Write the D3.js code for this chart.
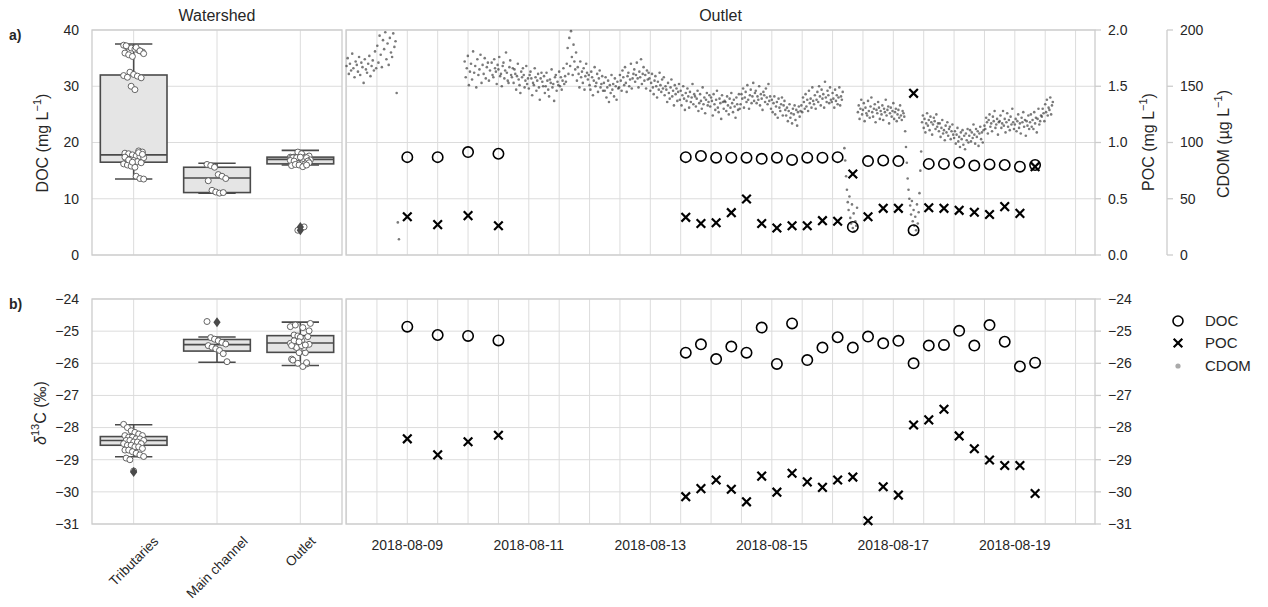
<!DOCTYPE html>
<html><head><meta charset="utf-8">
<script src="https://cdn.jsdelivr.net/npm/d3@7"></script>
<style>body{margin:0;background:#fff}</style>
</head><body><svg id="c" width="1268" height="607"></svg>
<script>
// ---------------- DATA ----------------
const categories = ["Tributaries", "Main channel", "Outlet"];
// box stats: [lower whisker, Q1, median, Q3, upper whisker]
const docBoxStats = [[13.5, 16.5, 17.8, 32.0, 37.5], [11.0, 11.1, 13.7, 15.6, 16.3], [16.0, 16.2, 17.0, 17.4, 18.6]];
const docBoxOutliers = [[], [], [4.4, 5.0]];
const d13BoxStats = [[-28.91, -28.55, -28.40, -28.28, -27.91], [-25.97, -25.62, -25.42, -25.26, -25.18], [-26.07, -25.66, -25.37, -25.14, -24.72]];
const d13BoxOutliers = [[-29.38], [-24.72], []];

const tribDOC = [37.3, 37.0, 36.8, 36.6, 36.4, 36.1, 35.9, 35.6, 35.3, 36.9, 36.3, 35.8, 37.2, 32.5, 32.1, 31.8, 31.5, 31.9, 31.6, 30.0, 29.4,
  18.5, 18.3, 18.1, 18.0, 17.8, 17.6, 17.5, 17.3, 17.2, 17.0, 16.8, 16.6, 16.4, 16.2, 16.0, 15.8, 15.6, 18.2, 17.9, 17.4, 16.9, 16.5, 14.0, 13.6, 13.5];
const mainDOC = [16.1, 15.9, 15.6, 14.3, 14.0, 13.6, 13.2, 11.5, 11.2, 11.0, 11.1];
const tribD13 = [-27.9, -28.0, -28.1, -28.15, -28.2, -28.25, -28.25, -28.3, -28.3, -28.35, -28.35, -28.4, -28.4, -28.4, -28.45, -28.45, -28.5, -28.5,
  -28.55, -28.55, -28.6, -28.6, -28.65, -28.7, -28.7, -28.75, -28.8, -28.85, -28.9, -28.95, -29.0, -29.35];
const mainD13 = [-24.7, -25.2, -25.25, -25.3, -25.35, -25.4, -25.45, -25.5, -25.55, -25.6, -25.7, -25.95];

const sampleTimes = ["2018-08-09T00:00", "2018-08-09T12:00", "2018-08-10T00:00", "2018-08-10T12:00",
  "2018-08-13T14:00", "2018-08-13T20:00", "2018-08-14T02:00", "2018-08-14T08:00", "2018-08-14T14:00", "2018-08-14T20:00",
  "2018-08-15T02:00", "2018-08-15T08:00", "2018-08-15T14:00", "2018-08-15T20:00", "2018-08-16T02:00", "2018-08-16T08:00",
  "2018-08-16T14:00", "2018-08-16T20:00", "2018-08-17T02:00", "2018-08-17T08:00", "2018-08-17T14:00", "2018-08-17T20:00",
  "2018-08-18T02:00", "2018-08-18T08:00", "2018-08-18T14:00", "2018-08-18T20:00", "2018-08-19T02:00", "2018-08-19T08:00"];
const outletDOC = [17.4, 17.4, 18.3, 18.0, 17.4, 17.6, 17.3, 17.3, 17.3, 17.1, 17.3, 16.9, 17.3, 17.3, 17.4, 5.0, 16.7, 16.8, 16.7, 4.4,
  16.2, 16.2, 16.4, 15.9, 16.1, 16.0, 15.7, 16.0];
const outletPOC = [0.34, 0.27, 0.35, 0.26, 0.335, 0.28, 0.287, 0.376, 0.498, 0.28, 0.24, 0.26, 0.26, 0.305, 0.30, 0.72, 0.34, 0.415, 0.415, 1.437,
  0.42, 0.415, 0.397, 0.38, 0.36, 0.43, 0.37, 0.785];
const outletDOCd13C = [-24.86, -25.12, -25.15, -25.29, -25.67, -25.41, -25.87, -25.48, -25.67, -24.89, -26.02, -24.76, -25.90, -25.51, -25.19, -25.51,
  -25.17, -25.38, -25.30, -26.0, -25.45, -25.43, -24.99, -25.45, -24.81, -25.33, -26.1, -25.98];
const outletPOCd13C = [-28.35, -28.85, -28.44, -28.24, -30.15, -29.90, -29.63, -29.92, -30.31, -29.51, -30.01, -29.42, -29.69, -29.86, -29.63, -29.54,
  -30.90, -29.84, -30.10, -27.92, -27.76, -27.43, -28.26, -28.66, -29.01, -29.18, -29.18, -30.05];

// CDOM sensor record (µg/L), regular sampling within each segment
const cdomStarts = ["2018-08-08T00:00", "2018-08-09T22:40", "2018-08-10T09:20", "2018-08-16T04:40", "2018-08-16T10:00", "2018-08-17T04:40", "2018-08-17T11:20"];
const cdomStepsMin = [27, 25, 20, 20, 20, 20, 20];
const cdomA = [168,175,161,170,164,179,166,158,172,169,163,176,160,171,167,153,174,165,162,170,177,159,168,173,164,181,166,
  186,171,195,178,167,191,183,198,174,188,169,193,180,176,197,185,190,144,29,14];
const cdomB = [172,158,166,177,151,163,170,156,181,162,168,149,174,160,165,178,153,169,161,175,157,167,171,155,164];
const cdomC = [171,160,158,174,166,163,152,169,
  165,176,159,161,150,168,171,157,164,180,162,155,153,167,173,160,158,166,
  153,165,161,147,159,170,156,151,144,163,158,166,160,149,155,168,152,157,
  148,160,163,157,142,153,151,166,158,146,155,161,149,138,157,162,154,150,
  159,144,150,162,155,147,141,156,153,165,149,152,137,158,160,146,154,151,
  163,150,158,147,155,166,152,159,154,
  170,184,161,193,168,199,176,160,187,172,165,180,
  155,167,161,149,172,158,163,153,166,147,159,170,162,156,
  160,151,147,163,158,142,155,167,150,153,161,145,157,164,149,152,159,146,
  153,146,158,140,149,155,136,151,144,160,147,152,141,157,150,138,154,148,
  149,160,155,146,164,158,151,167,153,145,159,162,150,156,170,148,157,161,
  165,154,160,171,157,149,163,158,174,152,161,167,155,160,148,164,156,162,
  157,146,153,161,149,143,155,159,150,140,154,147,162,151,145,156,148,158,
  142,150,147,136,153,144,139,149,156,141,146,133,151,143,148,137,145,152,
  138,146,133,142,150,139,129,144,137,148,141,131,145,136,140,152,134,143,
  141,132,139,146,128,135,143,137,130,149,134,140,126,138,144,133,136,142,
  132,140,137,124,143,134,129,138,146,131,127,139,135,121,142,136,130,137,
  136,128,141,133,125,139,131,144,135,127,138,132,122,140,134,129,143,130,
  134,143,139,148,131,140,145,136,151,138,130,142,147,135,141,153,137,144,
  146,135,141,138,150,133,143,139,129,145,142,136,148,140,134,152,137,141,
  130,138,127,135,141,125,132,136,122,139,131,128,134,140,124,133,137,129,
  124,131,119,128,134,122,126,117,130,125,133,120,129,115,127,132,123,128,
  133,127,140,136,130,143,132,138,128,146,135,139,131,149,137,134,142,130,
  138,145,136,150,141,133,147,139,143,131,154,140,136,146,142,135,149,138,
  136,144,139,131,147,137,142,134,140,149,133,141,138,145];
const cdomDip1 = [95,84,70,58,47,40,52,33,28,45,24,37,21,30,26,42];
const cdomD = [127,133,121,130,138,125,129,135,119,131,126,124,137,128,122,132,140,127,123,130,134,118,129,126,136,131,121,128,
  125,133,120,130,127,138,124,129,132,117,126,131,123,128,135,121,127,130,119,125,129,122,133,124,120,128,126,123];
const cdomDip2 = [110,96,82,68,58,50,44,36,48,30,40,26,34,22,45,28,38,55,75,92];
const cdomE = [118,124,113,121,109,117,126,115,120,111,123,118,107,116,122,119,112,125,114,117,
  110,117,105,113,120,108,111,102,115,109,118,106,112,114,103,110,116,107,
  104,110,99,107,113,101,105,96,109,103,111,98,106,94,108,102,112,100,
  106,111,101,109,104,116,107,99,112,105,110,97,108,114,103,109,100,111,
  115,112,122,118,108,120,125,114,117,110,123,119,128,113,116,121,107,118,
  119,124,113,117,128,115,121,109,118,126,114,120,111,123,116,130,118,112,
  116,121,110,119,125,113,117,108,122,118,127,114,120,106,119,115,124,112,
  118,125,114,120,112,127,117,122,109,121,130,116,119,124,
  123,130,126,119,134,127,138,124,131,129,140,125,133,136];
const cdomSegments = [cdomA, cdomB, cdomC, cdomDip1, cdomD, cdomDip2, cdomE];

const timeDomain = ["2018-08-07T23:47", "2018-08-20T07:40"];
const docTicks = [0, 10, 20, 30, 40];
const pocTicks = [0, 0.5, 1.0, 1.5, 2.0];
const cdomTicks = [0, 50, 100, 150, 200];
const d13Ticks = [-31, -30, -29, -28, -27, -26, -25, -24];

// ---------------- LAYOUT ----------------
const svg = d3.select("#c");
const FONT = "'Liberation Sans', Arial, Helvetica, sans-serif";
const TXT = "#262626", GRID = "#dcdcdc", SPINE = "#cccccc", BOXC = "#4a4a4a";
const topR = [255, 30], botR = [524, 299];
const leftX = [92, 342], rightX = [346, 1095];
const cdomAxisX = 1167;

const parse = d3.utcParse("%Y-%m-%dT%H:%M");
const xBand = d3.scaleBand().domain(categories).range(leftX);
const yDOC = d3.scaleLinear().domain([0, 40]).range(topR);
const yPOC = d3.scaleLinear().domain([0, 2]).range(topR);
const yCDOM = d3.scaleLinear().domain([0, 200]).range(topR);
const yD13 = d3.scaleLinear().domain([-31, -24]).range(botR);
const xTime = d3.scaleUtc().domain(timeDomain.map(parse)).range(rightX);
const minus = s => String(s).replace("-", "\u2212");

svg.append("rect").attr("width", 1268).attr("height", 607).attr("fill", "#fff");
const g = svg.append("g").attr("font-family", FONT).attr("fill", TXT);

// grids
function hGrid(x0, x1, ys) {
  g.append("g").selectAll("line").data(ys).join("line")
    .attr("x1", x0).attr("x2", x1).attr("y1", d => d).attr("y2", d => d)
    .attr("stroke", GRID).attr("stroke-width", 1);
}
function vGrid(xs, y0, y1) {
  g.append("g").selectAll("line").data(xs).join("line")
    .attr("x1", d => d).attr("x2", d => d).attr("y1", y0).attr("y2", y1)
    .attr("stroke", GRID).attr("stroke-width", 1);
}
const catCenters = categories.map(c => xBand(c) + xBand.bandwidth() / 2);
const halfDay = d3.utcHour.every(12).range(xTime.domain()[0], xTime.domain()[1]).map(xTime);
hGrid(leftX[0], leftX[1], docTicks.map(yDOC));
vGrid(catCenters, topR[1], topR[0]);
hGrid(leftX[0], leftX[1], d13Ticks.map(yD13));
vGrid(catCenters, botR[1], botR[0]);
hGrid(rightX[0], rightX[1], pocTicks.map(yPOC));
vGrid(halfDay, topR[1], topR[0]);
hGrid(rightX[0], rightX[1], d13Ticks.map(yD13));
vGrid(halfDay, botR[1], botR[0]);

// frames
function frame(x0, x1, y0, y1) {
  g.append("rect").attr("x", x0).attr("y", y0).attr("width", x1 - x0).attr("height", y1 - y0)
    .attr("fill", "none").attr("stroke", SPINE).attr("stroke-width", 1.3);
}
frame(leftX[0], leftX[1], topR[1], topR[0]);
frame(leftX[0], leftX[1], botR[1], botR[0]);
frame(rightX[0], rightX[1], topR[1], topR[0]);
frame(rightX[0], rightX[1], botR[1], botR[0]);
g.append("line").attr("x1", cdomAxisX).attr("x2", cdomAxisX).attr("y1", topR[1]).attr("y2", topR[0])
  .attr("stroke", SPINE).attr("stroke-width", 1.3);

// ---------------- boxplots ----------------
const bw = xBand.bandwidth() * 0.8;
function boxes(stats, y) {
  stats.forEach((s, i) => {
    const cx = catCenters[i];
    const bx = g.append("g").attr("stroke", BOXC).attr("stroke-width", 1.6);
    bx.append("line").attr("x1", cx).attr("x2", cx).attr("y1", y(s[0])).attr("y2", y(s[1]));
    bx.append("line").attr("x1", cx).attr("x2", cx).attr("y1", y(s[3])).attr("y2", y(s[4]));
    const cw = bw * 0.56;
    bx.append("line").attr("x1", cx - cw / 2).attr("x2", cx + cw / 2).attr("y1", y(s[0])).attr("y2", y(s[0]));
    bx.append("line").attr("x1", cx - cw / 2).attr("x2", cx + cw / 2).attr("y1", y(s[4])).attr("y2", y(s[4]));
    bx.append("rect").attr("x", cx - bw / 2).attr("width", bw).attr("y", y(s[3])).attr("height", Math.max(1, y(s[1]) - y(s[3])))
      .attr("fill", "#e5e5e5");
    bx.append("line").attr("x1", cx - bw / 2).attr("x2", cx + bw / 2).attr("y1", y(s[2])).attr("y2", y(s[2]));
  });
}
function fliers(outliers, y) {
  outliers.forEach((arr, i) => arr.forEach(v => {
    g.append("path").attr("d", "M0,-5L3.6,0L0,5L-3.6,0Z").attr("fill", BOXC)
      .attr("transform", `translate(${catCenters[i]},${y(v)})`);
  }));
}
function strip(vals, i, y) {
  const cx = catCenters[i];
  g.append("g").selectAll("circle").data(vals).join("circle")
    .attr("cx", (d, k) => cx + ((((k * 37) % 17) / 16) - 0.5) * 20)
    .attr("cy", d => y(d)).attr("r", 3)
    .attr("fill", "#fff").attr("stroke", "#555").attr("stroke-width", 0.9);
}
boxes(docBoxStats, yDOC);
strip(tribDOC, 0, yDOC); strip(mainDOC, 1, yDOC); strip(outletDOC, 2, yDOC);
fliers(docBoxOutliers, yDOC);
boxes(d13BoxStats, yD13);
strip(tribD13, 0, yD13); strip(mainD13, 1, yD13); strip(outletDOCd13C, 2, yD13);
fliers(d13BoxOutliers, yD13);

// ---------------- time series ----------------
const cdomPoints = cdomSegments.flatMap((vals, k) => {
  const t0 = +parse(cdomStarts[k]);
  return vals.map((v, i) => ({ t: new Date(t0 + i * cdomStepsMin[k] * 60000), v }));
});
g.append("g").selectAll("circle").data(cdomPoints).join("circle")
  .attr("cx", d => xTime(d.t)).attr("cy", d => yCDOM(d.v)).attr("r", 1.3)
  .attr("fill", "#222").attr("fill-opacity", 0.6);

const times = sampleTimes.map(parse);
function circles(vals, y) {
  g.append("g").selectAll("circle").data(vals).join("circle")
    .attr("cx", (d, i) => xTime(times[i])).attr("cy", d => y(d)).attr("r", 5.2)
    .attr("fill", "none").attr("stroke", "#000").attr("stroke-width", 1.6);
}
const xPath = "M-4.3,-4.3L4.3,4.3M-4.3,4.3L4.3,-4.3";
function crosses(vals, y) {
  g.append("g").selectAll("path").data(vals).join("path")
    .attr("d", xPath).attr("transform", (d, i) => `translate(${xTime(times[i])},${y(d)})`)
    .attr("stroke", "#000").attr("stroke-width", 2.2).attr("fill", "none");
}
circles(outletDOC, yDOC); crosses(outletPOC, yPOC);
circles(outletDOCd13C, yD13); crosses(outletPOCd13C, yD13);

// ---------------- axes text ----------------
const TS = 14;
function leftTicks(ticks, y) {
  g.append("g").selectAll("text").data(ticks).join("text")
    .attr("x", 79).attr("y", d => y(d)).attr("dy", "0.35em").attr("text-anchor", "end")
    .attr("font-size", TS).text(d => minus(d));
}
leftTicks(docTicks, yDOC); leftTicks(d13Ticks, yD13);
function rightTicks(ticks, y, x, fmt) {
  g.append("g").selectAll("line").data(ticks).join("line")
    .attr("x1", x).attr("x2", x + 6).attr("y1", d => y(d)).attr("y2", d => y(d))
    .attr("stroke", SPINE).attr("stroke-width", 1.3);
  g.append("g").selectAll("text").data(ticks).join("text")
    .attr("x", x + 13).attr("y", d => y(d)).attr("dy", "0.35em")
    .attr("font-size", TS).text(fmt);
}
rightTicks(pocTicks, yPOC, rightX[1], d => d3.format(".1f")(d));
rightTicks(cdomTicks, yCDOM, cdomAxisX, d => d);
rightTicks(d13Ticks, yD13, rightX[1], d => minus(d));

// date labels
const dateTicks = d3.utcDay.every(2).range(parse("2018-08-09T00:00"), xTime.domain()[1]);
g.append("g").selectAll("text").data(dateTicks).join("text")
  .attr("x", d => xTime(d)).attr("y", 550).attr("text-anchor", "middle")
  .attr("font-size", TS).text(d3.utcFormat("%Y-%m-%d"));

// category labels rotated
categories.forEach((c, i) => {
  const t = g.append("text").attr("font-size", 13.5).text(c);
  const L = t.node().getComputedTextLength();
  const h = (L + 13.5) * Math.SQRT1_2;
  t.attr("text-anchor", "middle").attr("dy", "0.35em")
    .attr("transform", `translate(${catCenters[i]},${534 + h / 2}) rotate(-45)`);
});

// titles
g.append("text").attr("x", (leftX[0] + leftX[1]) / 2).attr("y", 21).attr("text-anchor", "middle").attr("font-size", 16).text("Watershed");
g.append("text").attr("x", (rightX[0] + rightX[1]) / 2).attr("y", 21).attr("text-anchor", "middle").attr("font-size", 16).text("Outlet");
g.append("text").attr("x", 9).attr("y", 40).attr("font-size", 14).attr("font-weight", "bold").text("a)");
g.append("text").attr("x", 9).attr("y", 309).attr("font-size", 14).attr("font-weight", "bold").text("b)");

// axis labels
function vLabel(x, y, parts) {
  const t = g.append("text").attr("transform", `translate(${x},${y}) rotate(-90)`)
    .attr("text-anchor", "middle").attr("font-size", 16).attr("dy", "0.35em");
  parts.forEach(p => {
    const s = t.append("tspan").text(p.t);
    if (p.sup) s.attr("dy", -7).attr("font-size", 11);
    if (p.down) s.attr("dy", 7);
    if (p.it) s.attr("font-style", "italic");
  });
}
vLabel(42, 143, [{ t: "DOC (mg L" }, { t: "\u22121", sup: true }, { t: ")", down: true }]);
vLabel(40, 413, [{ t: "\u03b4", it: true }, { t: "13", sup: true }, { t: "C (\u2030)", down: true }]);
vLabel(1148, 142, [{ t: "POC (mg L" }, { t: "\u22121", sup: true }, { t: ")", down: true }]);
vLabel(1223, 144, [{ t: "CDOM (\u00b5g L" }, { t: "\u22121", sup: true }, { t: ")", down: true }]);

// legend
const lg = g.append("g");
lg.append("circle").attr("cx", 1178).attr("cy", 321).attr("r", 5).attr("fill", "none").attr("stroke", "#000").attr("stroke-width", 1.6);
lg.append("path").attr("d", xPath).attr("transform", "translate(1178,343)").attr("stroke", "#000").attr("stroke-width", 2.2);
lg.append("circle").attr("cx", 1178).attr("cy", 366).attr("r", 2.6).attr("fill", "#aaa");
[["DOC", 321], ["POC", 343], ["CDOM", 366]].forEach(([s, y]) =>
  lg.append("text").attr("x", 1205).attr("y", y).attr("dy", "0.35em").attr("font-size", 15).text(s));
</script></body></html>
